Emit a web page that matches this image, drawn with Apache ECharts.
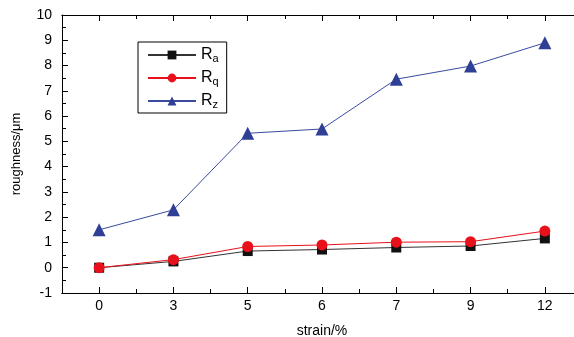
<!DOCTYPE html>
<html><head><meta charset="utf-8">
<script src="https://cdn.jsdelivr.net/npm/echarts@6/dist/echarts.min.js"></script>
<style>html,body{margin:0;padding:0;background:#fff}#c{width:574px;height:337px}</style>
</head><body><div id="c"></div>
<script>
const categories = ['0','3','5','6','7','9','12'];
const ra = [0.0, 0.25, 0.66, 0.72, 0.80, 0.86, 1.16];
const rq = [0.0, 0.32, 0.84, 0.90, 1.01, 1.03, 1.45];
const rz = [1.50, 2.29, 5.32, 5.49, 7.46, 7.98, 8.90];
const seriesNames = ['Ra','Rq','Rz'];
const subs = {Ra:'a', Rq:'q', Rz:'z'};

const font = 'Liberation Sans, Arial, sans-serif';
const chart = echarts.init(document.getElementById('c'));
function xAx(pos, showLabel, major) {
  return {
    type:'category', data:categories, position:pos, boundaryGap:true,
    axisLine:{show:true, onZero:false, lineStyle:{color:'#000', width:1}},
    axisTick:{show:true, inside:true, alignWithLabel:major, length: major?6:4, lineStyle:{color:'#000'}},
    axisLabel:{show:showLabel, color:'#000', fontSize:14, fontFamily:font, margin:6},
    splitLine:{show:false},
    name: (pos==='bottom' && major)?'strain/%':'', nameLocation:'middle', nameGap:31,
    nameTextStyle:{color:'#000', fontSize:14, fontFamily:font}
  };
}
chart.setOption({
  animation:false,
  backgroundColor:'#fff',
  grid:{left:62, top:15, right:-8, bottom:44, containLabel:false, outerBoundsMode:'none'},
  xAxis:[xAx('bottom',true,true), xAx('bottom',false,false), xAx('top',false,true), xAx('top',false,false)],
  yAxis:{
    type:'value', min:-1, max:10, interval:1,
    axisLine:{show:true, onZero:false, lineStyle:{color:'#000'}},
    axisTick:{show:true, inside:true, length:6, lineStyle:{color:'#000'}},
    minorTick:{show:true, splitNumber:2, length:4, lineStyle:{color:'#000'}},
    axisLabel:{color:'#000', fontSize:14, fontFamily:font, margin:10},
    splitLine:{show:false},
    name:'roughness/μm', nameLocation:'middle', nameGap:39,
    nameTextStyle:{color:'#000', fontSize:13, fontFamily:font}
  },
  legend:{
    orient:'vertical', left:138, top:42, width:88,
    data:seriesNames,
    borderColor:'#000', borderWidth:1, padding:[4,8,3,9],
    itemWidth:48, itemHeight:11, itemGap:5,
    formatter: n => '{r|R}{s|'+subs[n]+'}',
    textStyle:{color:'#000', fontFamily:font,
      rich:{r:{fontSize:16, fontFamily:font, color:'#000', lineHeight:18},
            s:{fontSize:11, fontFamily:font, color:'#000', verticalAlign:'bottom', lineHeight:12, padding:[7,0,0,0]}}}
  },
  series:[
    {name:'Ra', type:'line', data:ra, symbol:'rect', symbolSize:10,
     lineStyle:{color:'#333', width:1}, itemStyle:{color:'#111'}, z:3},
    {name:'Rq', type:'line', data:rq, symbol:'circle', symbolSize:11,
     lineStyle:{color:'#e8101a', width:1}, itemStyle:{color:'#e8101a'}, z:4},
    {name:'Rz', type:'line', data:rz, symbol:'triangle', symbolSize:13,
     lineStyle:{color:'#3a4aa0', width:1}, itemStyle:{color:'#2e3f95'}, z:5}
  ]
});
</script></body></html>
